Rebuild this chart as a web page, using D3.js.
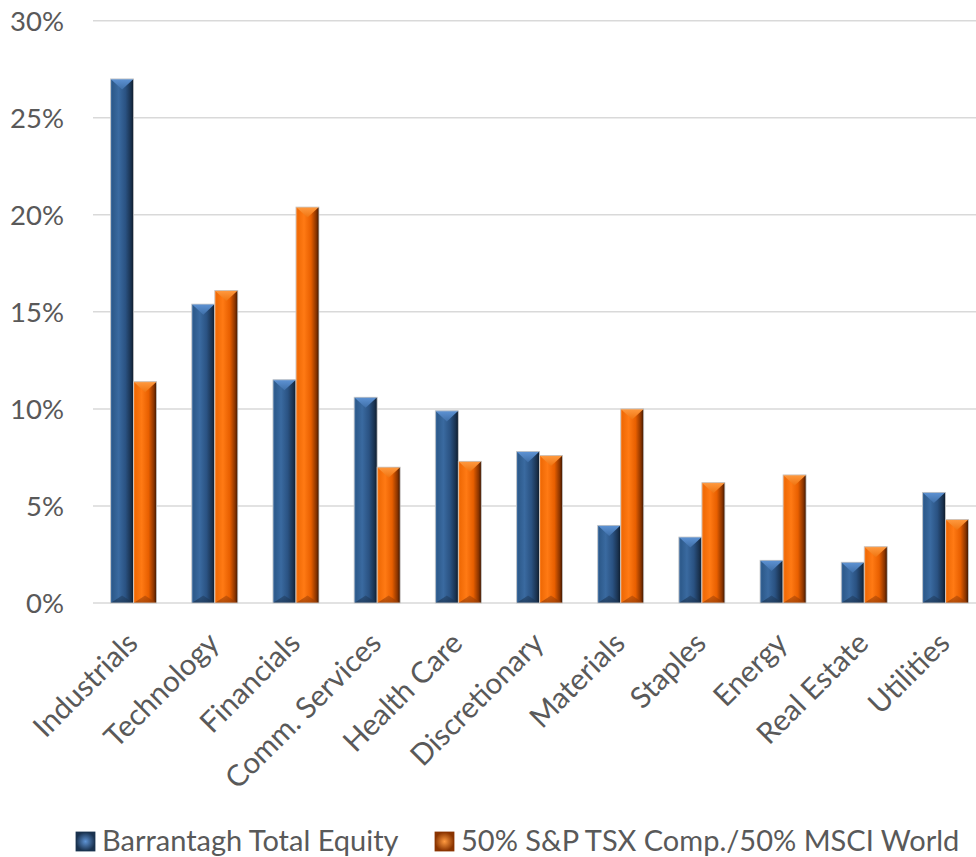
<!DOCTYPE html>
<html>
<head>
<meta charset="utf-8">
<script src="https://cdn.jsdelivr.net/npm/d3@7"></script>
<style>
  html, body { margin: 0; padding: 0; background: #fff; }
  svg { display: block; }
  text { font-family: Lato, "Open Sans", sans-serif; fill: #595959; }
</style>
</head>
<body>
<svg id="chart" width="976" height="857"></svg>
<script>
// Sector weights (%)
const categories = ["Industrials", "Technology", "Financials", "Comm. Services", "Health Care",
  "Discretionary", "Materials", "Staples", "Energy", "Real Estate", "Utilities"];
const barrantagh = [27.0, 15.4, 11.5, 10.6, 9.9, 7.8, 4.0, 3.4, 2.2, 2.1, 5.7];
const benchmark  = [11.4, 16.1, 20.4, 7.0, 7.3, 7.6, 10.0, 6.2, 6.6, 2.9, 4.3];
const seriesNames = ["Barrantagh Total Equity", "50% S&P TSX Comp./50% MSCI World"];
const yTicks = [0, 5, 10, 15, 20, 25, 30];

const svg = d3.select("#chart");
const plot = { left: 93, right: 986, top: 20.7, bottom: 603 };

const y = d3.scaleLinear().domain([0, 30]).range([plot.bottom, plot.top]);
const x = d3.scaleBand().domain(categories).range([plot.left, plot.right])
  .paddingInner(0.433).paddingOuter(0.2165);
const xs = d3.scaleBand().domain([0, 1]).range([0, x.bandwidth()]);

// Beveled fills
const palettes = [
  { body: [["0%", "#4b79ad"], ["8%", "#2d5a8b"], ["35%", "#3a6aa0"], ["65%", "#2a5282"], ["88%", "#1a324f"], ["100%", "#0d1a2a"]],
    top: "#5e93d4", topSide: "#3f6fa8", bottom: "#1d3756" },
  { body: [["0%", "#ff8a33"], ["8%", "#f06a06"], ["35%", "#ff7a14"], ["65%", "#e85f00"], ["88%", "#8a3400"], ["100%", "#3a1500"]],
    top: "#ff9a40", topSide: "#f07410", bottom: "#9a3e05" }
];
const defs = svg.append("defs");
palettes.forEach((p, i) => {
  const g = defs.append("linearGradient").attr("id", "body" + i)
    .attr("x1", "0%").attr("x2", "100%").attr("y1", "0%").attr("y2", "0%");
  p.body.forEach(s => g.append("stop").attr("offset", s[0]).attr("stop-color", s[1]));
  const t = defs.append("linearGradient").attr("id", "top" + i)
    .attr("x1", "0%").attr("x2", "0%").attr("y1", "0%").attr("y2", "100%");
  t.append("stop").attr("offset", "0%").attr("stop-color", p.top);
  t.append("stop").attr("offset", "100%").attr("stop-color", p.topSide);
  const b = defs.append("linearGradient").attr("id", "bot" + i)
    .attr("x1", "0%").attr("x2", "0%").attr("y1", "0%").attr("y2", "100%");
  b.append("stop").attr("offset", "0%").attr("stop-color", p.bottom).attr("stop-opacity", 0.6);
  b.append("stop").attr("offset", "100%").attr("stop-color", p.bottom);
  const m = defs.append("radialGradient").attr("id", "mark" + i);
  m.append("stop").attr("offset", "0%").attr("stop-color", p.top);
  m.append("stop").attr("offset", "100%").attr("stop-color", p.body[4][1]);
});

// Gridlines
svg.append("g").selectAll("line").data(yTicks).join("line")
  .attr("x1", plot.left).attr("x2", plot.right)
  .attr("y1", d => y(d)).attr("y2", d => y(d))
  .attr("stroke", "#d9d9d9").attr("stroke-width", 1.5);

// Y axis labels
svg.append("g").selectAll("text").data(yTicks).join("text")
  .attr("x", 64).attr("y", d => y(d))
  .attr("dy", "0.36em").attr("text-anchor", "end")
  .attr("font-size", 27.5)
  .text(d => d + "%");

// Bars
const series = [barrantagh, benchmark];
const bars = [];
categories.forEach((c, ci) => series.forEach((s, si) => bars.push({ c, si, v: s[ci] })));

const barG = svg.append("g").selectAll("g").data(bars).join("g")
  .attr("transform", d => `translate(${x(d.c) + xs(d.si)},0)`);

const bw = xs.bandwidth();
const bev = bw * 0.46;

barG.append("rect")
  .attr("x", 0).attr("width", bw)
  .attr("y", d => y(d.v)).attr("height", d => y(0) - y(d.v))
  .attr("fill", d => `url(#body${d.si})`);

// top bevel triangle
barG.append("path")
  .attr("d", d => {
    const t = y(d.v);
    const h = Math.min(bev, (y(0) - t) / 2);
    return `M0,${t}L${bw},${t}L${bw / 2},${t + h}Z`;
  })
  .attr("fill", d => `url(#top${d.si})`);

// bottom bevel triangle
barG.append("path")
  .attr("d", d => {
    const b = y(0);
    const h = Math.min(bev * 0.7, (b - y(d.v)) / 2);
    return `M0,${b}L${bw},${b}L${bw / 2},${b - h}Z`;
  })
  .attr("fill", d => `url(#bot${d.si})`).attr("opacity", 0.75);

barG.append("rect")
  .attr("x", 0).attr("width", bw)
  .attr("y", d => y(d.v)).attr("height", d => y(0) - y(d.v))
  .attr("fill", "none").attr("stroke", "#c8c8c8").attr("stroke-width", 0.8);

// Category labels
svg.append("g").selectAll("text").data(categories).join("text")
  .attr("transform", d => `translate(${x(d) + x.bandwidth() / 2 + 6},${plot.bottom + 42}) rotate(-45)`)
  .attr("text-anchor", "end")
  .attr("font-size", 29.5)
  .text(d => d);

// Legend
const legend = svg.append("g");
const legendX = [76, 435];
seriesNames.forEach((name, i) => {
  const g = legend.append("g").attr("transform", `translate(${legendX[i]},832)`);
  g.append("rect").attr("width", 19).attr("height", 19).attr("fill", `url(#mark${i})`)
    .attr("stroke", palettes[i].body[4][1]).attr("stroke-width", 0.8);
  g.append("text").attr("x", 26).attr("y", 18.5).attr("font-size", 29).text(name);
});
</script>
</body>
</html>
